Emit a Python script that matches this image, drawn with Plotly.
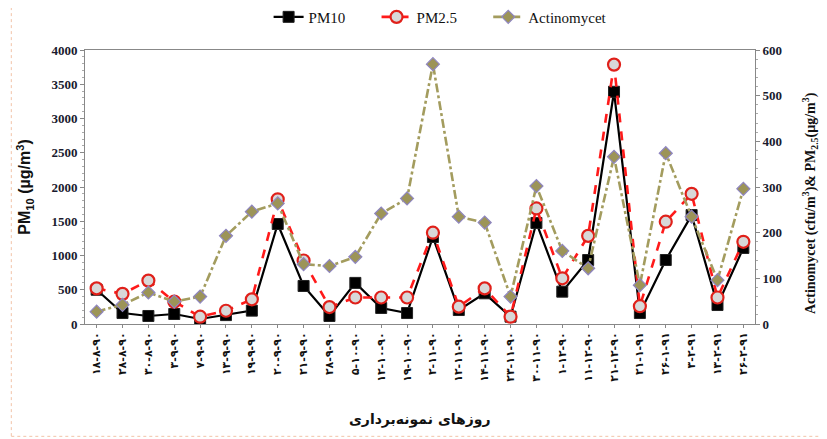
import plotly.graph_objects as go

dates = ["۱۸-۸-۹۰", "۲۸-۸-۹۰", "۳۰-۸-۹۰", "۳-۹-۹۰", "۷-۹-۹۰", "۱۳-۹-۹۰", "۱۹-۹-۹۰",
         "۲۰-۹-۹۰", "۲۱-۹-۹۰", "۲۸-۹-۹۰", "۵-۱۰-۹۰", "۱۲-۱۰-۹۰", "۱۹-۱۰-۹۰",
         "۲-۱۱-۹۰", "۱۲-۱۱-۹۰", "۱۴-۱۱-۹۰", "۲۳-۱۱-۹۰", "۳۰-۱۱-۹۰",
         "۱-۱۲-۹۰", "۱۱-۱۲-۹۰", "۲۱-۱۲-۹۰", "۲۱-۱-۹۱", "۲۶-۱-۹۱",
         "۳-۲-۹۱", "۱۳-۲-۹۱", "۲۶-۲-۹۱"]

pm10 = [500, 160, 117, 146, 73, 130, 195, 1460, 555, 117, 600, 234, 160,
        1270, 204, 448, 107, 1475, 472, 934, 3390, 160, 934, 1590, 277, 1110]

pm25 = [78, 66, 95, 49, 16, 29, 54, 273, 139, 37, 58, 58, 58,
        200, 38, 78, 16, 253, 100, 193, 568, 39, 224, 285, 58, 180]

actino = [27, 42, 69, 49, 60, 193, 246, 264, 131, 127, 147, 242, 275,
          569, 235, 222, 60, 302, 160, 122, 366, 85, 374, 235, 96, 296]

x = list(range(len(dates)))
pad = "\u00a0" * 7

fig = go.Figure()
fig.add_trace(go.Scatter(
    x=x, y=pm10, name="PM10" + pad, mode="lines+markers",
    line=dict(color="black", width=2.2),
    marker=dict(symbol="square", size=11, color="black", line=dict(color="#222", width=1)),
))
fig.add_trace(go.Scatter(
    x=x, y=pm25, name="PM2.5" + pad, mode="lines+markers", yaxis="y2",
    line=dict(color="#ff1a1a", width=2.6, dash="dash"),
    marker=dict(symbol="circle", size=12, color="#d8d8d8", line=dict(color="#e0201a", width=2.2)),
))
fig.add_trace(go.Scatter(
    x=x, y=actino, name="Actinomycet", mode="lines+markers", yaxis="y2",
    line=dict(color="#a39c5e", width=2.6, dash="dashdot"),
    marker=dict(symbol="diamond", size=10, color="#9c9458", line=dict(color="#8f86c0", width=1.2)),
))

tickfont = dict(family="Liberation Serif", size=13, color="#1a1a2e", weight="bold")

fig.update_layout(
    width=827, height=439,
    margin=dict(l=77, r=80, t=42, b=123, autoexpand=False),
    paper_bgcolor="white", plot_bgcolor="white",
    showlegend=True,
    legend=dict(orientation="h", x=0.53, xanchor="center", y=1.12, yanchor="middle",
                font=dict(family="Liberation Serif", size=15, color="#111"),
                bgcolor="rgba(0,0,0,0)"),
    xaxis=dict(
        range=[-0.45, len(dates) - 0.55], automargin=False,
        tickmode="array", tickvals=x, ticktext=dates, tickangle=-90,
        tickfont=dict(family="DejaVu Sans", size=11, color="#111", weight="bold"),
        showline=True, linecolor="#888", linewidth=1, mirror=True,
        ticks="outside", ticklen=3, tickcolor="#888",
        showgrid=False, zeroline=False,
    ),
    yaxis=dict(
        range=[0, 4000], dtick=500, tickfont=tickfont, automargin=False,
        showline=True, linecolor="#888", linewidth=1,
        ticks="outside", ticklen=4, tickcolor="#888",
        minor=dict(ticks="outside", ticklen=2, dtick=100, tickcolor="#aaa"),
        showgrid=False, zeroline=False,
    ),
    yaxis2=dict(
        range=[0, 600], dtick=100, overlaying="y", side="right", tickfont=tickfont,
        automargin=False,
        showline=True, linecolor="#888", linewidth=1,
        ticks="outside", ticklen=4, tickcolor="#888",
        minor=dict(ticks="outside", ticklen=2, dtick=20, tickcolor="#aaa"),
        showgrid=False, zeroline=False,
    ),
    annotations=[
        dict(text="<b>PM<sub>10</sub> (µg/m<sup>3</sup>)</b>", xref="paper", yref="paper",
             x=-0.09, y=0.5, textangle=-90, showarrow=False,
             font=dict(family="Liberation Sans", size=16, color="#111"),
             xanchor="center", yanchor="middle"),
        dict(text="<b>Actinomycet (cfu/m<sup>3</sup>)& PM<sub>2.5</sub>(µg/m<sup>3</sup>)</b>",
             xref="paper", yref="paper", x=1.083, y=0.44, textangle=-90, showarrow=False,
             font=dict(family="Liberation Serif", size=14, color="#111"),
             xanchor="center", yanchor="middle"),
        dict(text="<b>روزهای نمونه‌برداری</b>", xref="paper", yref="paper",
             x=0.5, y=-0.35, showarrow=False,
             font=dict(family="DejaVu Sans", size=14, color="#111"),
             xanchor="center", yanchor="middle"),
    ],
    shapes=[
        dict(type="rect", xref="paper", yref="paper", x0=-0.11, x1=1.1, y0=-0.41, y1=1.17,
             line=dict(color="#f2c4a8", width=1, dash="dot"), layer="below"),
    ],
)

fig.write_html("out.html")
